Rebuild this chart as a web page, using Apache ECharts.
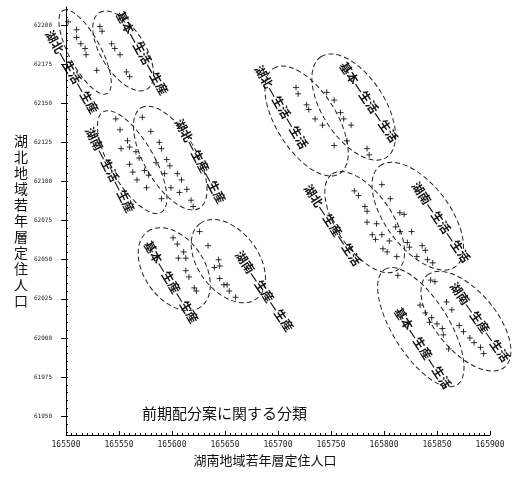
<!DOCTYPE html>
<html><head><meta charset="utf-8">
<script src="https://cdn.jsdelivr.net/npm/echarts@6/dist/echarts.min.js"></script>
<style>html,body{margin:0;padding:0;background:#fff}#c{width:524px;height:477px}</style>
</head><body><div id="c"></div>
<script>
// ---- data ----
const groupNames = [
  '湖北—生活—生産','基本—生活—生産','湖南—生活—生産','湖北—生産—生産',
  '基本—生産—生産','湖南—生産—生産','湖北—生活—生活','基本—生活—生活',
  '湖北—生産—生活','湖南—生活—生活','基本—生産—生活','湖南—生産—生活'
];
const pts_hokuSeikatsuSeisan = [[165502,62202],[165510,62197],[165510,62192],[165514,62188],[165518,62185],[165519,62181],[165529,62171]];
const pts_kihonSeikatsuSeisan = [[165532,62199],[165534,62196],[165543,62188],[165546,62185],[165551,62181],[165557,62170],[165560,62167]];
const pts_nanSeikatsuSeisan = [[165547,62140],[165551,62133],[165552,62121],[165558,62126],[165560,62122],[165566,62119],[165569,62115],[165560,62111],[165563,62106],[165574,62107],[165578,62104],[165567,62101],[165576,62096],[165590,62089]];
const pts_hokuSeisanSeisan = [[165572,62141],[165580,62132],[165588,62125],[165590,62121],[165585,62112],[165595,62114],[165598,62110],[165593,62105],[165605,62105],[165609,62101],[165599,62096],[165607,62093],[165614,62095],[165618,62088],[165620,62084]];
const pts_kihonSeisanSeisan = [[165601,62064],[165605,62060],[165611,62055],[165606,62051],[165613,62051],[165613,62043],[165616,62039],[165621,62032],[165623,62030]];
const pts_nanSeisanSeisan = [[165626,62068],[165634,62059],[165644,62050],[165645,62046],[165640,62045],[165645,62038],[165649,62034],[165652,62034],[165654,62030],[165660,62026]];
const pts_hokuSeikatsuSeikatsu = [[165717,62160],[165719,62156],[165727,62149],[165729,62146],[165735,62140],[165742,62136],[165753,62123]];
const pts_kihonSeikatsuSeikatsu = [[165746,62157],[165753,62152],[165759,62144],[165762,62140],[165769,62136],[165765,62126],[165784,62121],[165786,62117]];
const pts_hokuSeisanSeikatsu = [[165772,62094],[165776,62091],[165782,62084],[165784,62081],[165784,62074],[165793,62073],[165789,62066],[165798,62066],[165792,62063],[165805,62062],[165799,62057],[165803,62055],[165812,62052]];
const pts_nanSeikatsuSeikatsu = [[165798,62098],[165806,62089],[165815,62080],[165819,62079],[165811,62071],[165815,62068],[165826,62068],[165822,62061],[165824,62058],[165836,62059],[165839,62056],[165831,62052],[165841,62050],[165846,62048]];
const pts_kihonSeisanSeikatsu = [[165813,62040],[165834,62021],[165839,62016],[165845,62013],[165843,62010],[165850,62009],[165855,62006],[165856,62002],[165861,61993]];
const pts_nanSeisanSeikatsu = [[165844,62037],[165848,62036],[165859,62023],[165864,62018],[165871,62008],[165875,62004],[165881,62000],[165885,61997],[165891,61994],[165894,61990]];
const groupPoints = [pts_hokuSeikatsuSeisan, pts_kihonSeikatsuSeisan, pts_nanSeikatsuSeisan, pts_hokuSeisanSeisan,
  pts_kihonSeisanSeisan, pts_nanSeisanSeisan, pts_hokuSeikatsuSeikatsu, pts_kihonSeikatsuSeikatsu,
  pts_hokuSeisanSeikatsu, pts_nanSeikatsuSeikatsu, pts_kihonSeisanSeikatsu, pts_nanSeisanSeikatsu];
// ellipse major-axis end points (data units)
const ellipseAxisEnds = [
  [165497.2,62209.3,165538.8,62156.2],
  [165531.3,62207.8,165576.5,62159.0],
  [165535.0,62144.5,165589.8,62080.3],
  [165570.9,62147.1,165625.8,62082.9],
  [165577.2,62068.1,165627.1,62019.9],
  [165626.4,62073.1,165679.9,62025.1],
  [165695.8,62172.3,165758.1,62105.0],
  [165740.5,62179.7,165802.3,62115.4],
  [165751.2,62104.8,165812.4,62043.3],
  [165796.1,62110.0,165867.7,62045.7],
  [165800.7,62043.8,165868.8,61970.0],
  [165840.8,62040.1,165913.8,61981.3]
];
// group label anchor points (data units)
const labelAnchors = [
  [165505.7,62169.9],[165571.9,62182.1],[165541.6,62107.3],[165626.7,62113.0],
  [165599.3,62035.7],[165687.2,62029.9],[165703.3,62147.6],[165785.6,62150.8],
  [165751.5,62072.1],[165853.7,62074.0],[165836.6,61993.5],[165890.5,62010.1]
];
const yTickLabels = [61950,61975,62000,62025,62050,62075,62100,62125,62150,62175,62200];
const yMinorTicks = [];
for (let v = 61940; v <= 62210; v += 5) yMinorTicks.push(v);

// ---- styles ----
const ellipseHalfWidthPx = [16,22,22,26,30,30,30,31,28,32,28,30];
const labelAngleDeg = [60,61,63,62,59,56,60,56,57,56,57,55];
const FONT = '"Noto Sans CJK JP", "Noto Sans", sans-serif';
const plain = v => String(v);

const chart = echarts.init(document.getElementById('c'), null, {renderer:'canvas'});
const series = [];
groupPoints.forEach((pts, i) => {
  series.push({
    type:'scatter', name: groupNames[i], data: pts,
    symbol:'path://M0,5L10,5M5,0L5,10', symbolSize:6,
    itemStyle:{color:'transparent', borderColor:'#000', borderWidth:1},
    emphasis:{disabled:true}, silent:true, z:3
  });
});
series.push({
  type:'custom', clip:false, silent:true, z:2,
  data: ellipseAxisEnds.map((e,i)=>[e[0],e[1],e[2],e[3],i]),
  renderItem:(params, api) => {
    const p1 = api.coord([api.value(0), api.value(1)]);
    const p2 = api.coord([api.value(2), api.value(3)]);
    const i = api.value(4);
    const dx = p2[0]-p1[0], dy = p2[1]-p1[1];
    const a = Math.sqrt(dx*dx+dy*dy)/2;
    return {
      type:'ellipse', x:(p1[0]+p2[0])/2, y:(p1[1]+p2[1])/2,
      rotation: -Math.atan2(dy, dx),
      shape:{cx:0, cy:0, rx:a, ry:ellipseHalfWidthPx[i]},
      style:{fill:null, stroke:'#222', lineWidth:1, lineDash:[5,3]}
    };
  }
});
series.push({
  type:'custom', clip:false, silent:true, z:4,
  data: labelAnchors.map((p,i)=>[p[0],p[1],i]),
  renderItem:(params, api) => {
    const p = api.coord([api.value(0), api.value(1)]);
    const i = api.value(2);
    return {
      type:'text', x:p[0], y:p[1], rotation: -labelAngleDeg[i]*Math.PI/180,
      style:{text: groupNames[i], fontSize:12, fontWeight:'bold', fontFamily:FONT,
        fill:'#111', align:'center', verticalAlign:'middle'}
    };
  }
});

chart.setOption({
  animation:false,
  backgroundColor:'#fff',
  title:{text:'前期配分案に関する分類', left:137, top:401,
    textStyle:{fontSize:15, fontWeight:'normal', color:'#111', fontFamily:FONT}},
  grid:{left:66, right:34, top:7, bottom:42},
  xAxis:{
    type:'value', min:165500, max:165900, interval:50,
    name:'湖南地域若年層定住人口', nameLocation:'middle', nameGap:14,
    nameTextStyle:{fontSize:13, color:'#111', fontFamily:FONT, padding:[0,26,0,0]},
    axisLine:{lineStyle:{color:'#000', width:1}},
    axisTick:{show:true, inside:true, length:4, lineStyle:{color:'#000'}},
    minorTick:{show:true, splitNumber:10, length:2, lineStyle:{color:'#000'}},
    axisLabel:{fontSize:8, color:'#222', fontFamily:'"DejaVu Sans Mono", monospace', margin:6, formatter:plain},
    splitLine:{show:false}
  },
  yAxis:[{
    type:'value', min:61938, max:62211.5,
    name:'湖\n北\n地\n域\n若\n年\n層\n定\n住\n人\n口', nameLocation:'middle', nameRotate:0, nameGap:37,
    nameTextStyle:{fontSize:14, lineHeight:16, color:'#111', fontFamily:FONT, padding:[0,0,12,0]},
    axisLine:{show:true, lineStyle:{color:'#000', width:1}},
    axisTick:{show:true, length:5, customValues:yTickLabels, lineStyle:{color:'#000'}},
    axisLabel:{fontSize:6, color:'#222', fontFamily:'"DejaVu Sans Mono", monospace', margin:14, customValues:yTickLabels, formatter:plain},
    splitLine:{show:false}
  },{
    type:'value', min:61938, max:62211.5, position:'left',
    axisLine:{show:false}, axisLabel:{show:false}, splitLine:{show:false},
    axisTick:{show:true, inside:true, length:2, customValues:yMinorTicks, lineStyle:{color:'#000'}}
  }],
  series: series
});
</script></body></html>
